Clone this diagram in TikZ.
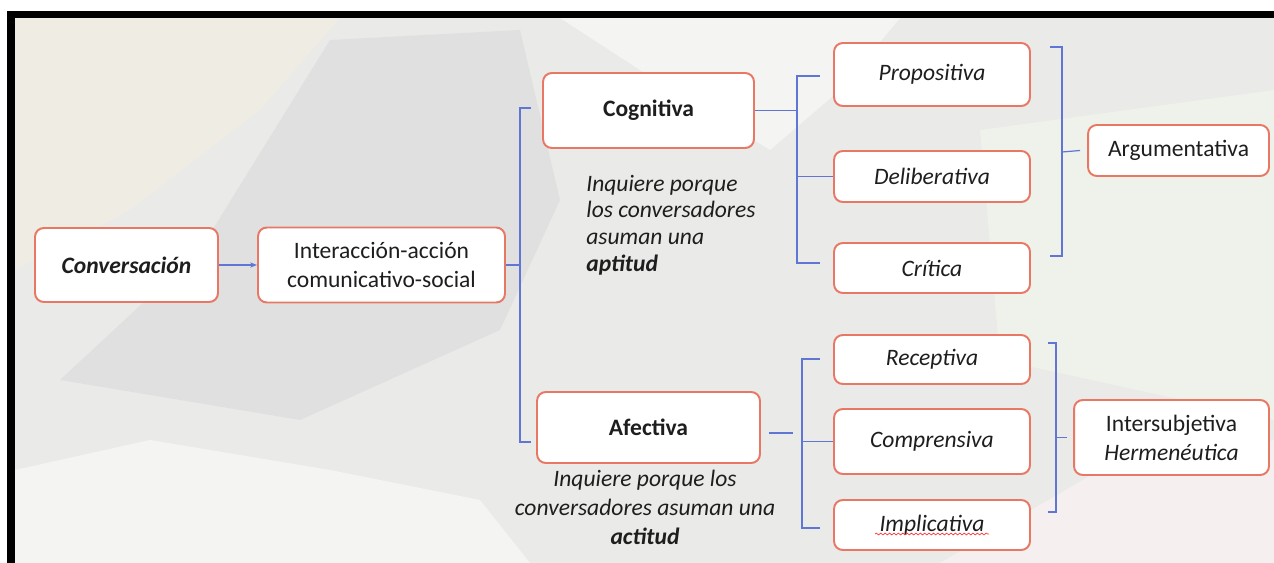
\documentclass[tikz,border=0pt]{standalone}
\usepackage{fontspec}
\setmainfont{Carlito}
\usetikzlibrary{arrows.meta,calc,decorations.pathmorphing}
\definecolor{boxred}{RGB}{232,120,100}
\definecolor{conblue}{RGB}{95,118,212}
\definecolor{bgbase}{RGB}{234,234,233}
\definecolor{bgbeige}{RGB}{239,236,227}
\definecolor{bgwhite}{RGB}{244,244,243}
\definecolor{bggreen}{RGB}{238,242,235}
\definecolor{bgpink}{RGB}{246,239,239}
\definecolor{bgdark}{RGB}{224,224,224}
\definecolor{ink}{RGB}{30,30,30}
\begin{document}
\begin{tikzpicture}[x=0.02cm,y=-0.02cm,
  box/.style={draw=boxred, line width=1.1pt, rounded corners=5pt, fill=white, align=center,
    text=ink, inner sep=2pt, font=\fontsize{13.4}{16.5}\selectfont},
  conn/.style={draw=conblue, line width=0.7pt},
  note/.style={text=ink, inner sep=0pt}]
\useasboundingbox (0,0) rectangle (1274,563);
% background
\fill[white] (0,0) rectangle (1274,563);
\fill[bgbase] (15,18) rectangle (1274,563);
\fill[bgbeige] (15,18) -- (340,18) -- (260,110) -- (130,210) -- (15,270) -- cycle;
\fill[bgwhite] (560,18) -- (900,18) -- (840,90) -- (770,150) -- (640,70) -- cycle;
\fill[bgwhite] (15,470) -- (150,440) -- (330,470) -- (480,500) -- (530,563) -- (15,563) -- cycle;
\fill[bgdark] (330,40) -- (520,30) -- (560,200) -- (500,330) -- (300,420) -- (60,380) -- (200,250) -- cycle;
\fill[bggreen] (980,130) -- (1274,90) -- (1274,420) -- (1000,360) -- cycle;
\fill[bgpink] (940,563) -- (1100,470) -- (1274,440) -- (1274,563) -- cycle;
% black frame
\fill[black] (7,11) rectangle (1274,18);
\fill[black] (7,11) rectangle (15,563);

% nodes
\node[box, minimum width=3.66cm, minimum height=1.48cm] (conv) at (126.5,265) {\textbf{\textit{Conversación}}};
\node[box, minimum width=4.94cm, minimum height=1.5cm] (inter) at (381.5,265) {Interacción-acción\\comunicativo-social};
\node[box, minimum width=4.22cm, minimum height=1.5cm] (cog) at (648.5,110.5) {\textbf{Cognitiva}};
\node[box, minimum width=4.46cm, minimum height=1.42cm] (afe) at (648.5,427.5) {\textbf{Afectiva}};
\node[box, minimum width=3.92cm, minimum height=1.26cm] (prop) at (932,74.5) {\textit{Propositiva}};
\node[box, minimum width=3.92cm, minimum height=1.02cm] (deli) at (932,176.5) {\textit{Deliberativa}};
\node[box, minimum width=3.92cm, minimum height=1.0cm] (crit) at (932,268) {\textit{Crítica}};
\node[box, minimum width=3.62cm, minimum height=1.02cm] (arg) at (1178.5,150.5) {Argumentativa};
\node[box, minimum width=3.92cm, minimum height=0.98cm] (rec) at (932,359.5) {\textit{Receptiva}};
\node[box, minimum width=3.92cm, minimum height=1.3cm] (comp) at (932,441.5) {\textit{Comprensiva}};
\node[box, minimum width=3.92cm, minimum height=1.0cm] (impl) at (932,525) {\textit{Implicativa}};
\node[box, minimum width=3.9cm, minimum height=1.5cm] (herm) at (1171.5,437.5) {Intersubjetiva\\\textit{Hermenéutica}};

% notes
\node[note, anchor=west, align=left, font=\fontsize{13.4}{15.2}\selectfont] (cogtxt) at (586,225)
  {\textit{Inquiere porque}\\\textit{los conversadores}\\\textit{asuman una}\\\textbf{\textit{aptitud}}};
\node[note, align=center, font=\fontsize{13.4}{16.5}\selectfont] (afetxt) at (645,507)
  {\textit{Inquiere porque los}\\\textit{conversadores asuman una}\\\textbf{\textit{actitud}}};

% wavy underline of Implicativa
\draw[red!80, line width=0.4pt, decorate, decoration={snake, amplitude=0.5pt, segment length=2.5pt}]
  ($(impl.center)+(-57,9)$) -- ($(impl.center)+(57,9)$);

% connectors
\draw[conn, -{Stealth[length=4pt,width=3pt]}] (conv) -- (inter);

\coordinate (b1) at (520,265);
\coordinate (b1t) at (531,108);
\coordinate (b1b) at (531,442);
\draw[conn] (inter.east) -- (b1);
\draw[conn] (b1t) -- (b1t -| b1) -- (b1b -| b1) -- (b1b);

\coordinate (b2) at (797,110.5);
\coordinate (b2t) at (820,76);
\coordinate (b2b) at (820,263);
\draw[conn] (cog.east) -- (b2);
\draw[conn] (b2t) -- (b2t -| b2) -- (b2b -| b2) -- (b2b);
\draw[conn] (deli.west -| b2) -- (deli.west);

\coordinate (b3) at (802,433);
\coordinate (b3s) at (769,433);
\coordinate (b3e) at (793,433);
\coordinate (b3t) at (820,359);
\coordinate (b3b) at (820,528);
\draw[conn] (b3s) -- (b3e);
\draw[conn] (b3t) -- (b3t -| b3) -- (b3b -| b3) -- (b3b);
\draw[conn] (comp.west -| b3) -- (comp.west);

\coordinate (b4) at (1062,152);
\coordinate (b4t) at (1050,47);
\coordinate (b4b) at (1050,256);
\draw[conn] (b4t) -- (b4t -| b4) -- (b4b -| b4) -- (b4b);
\draw[conn] (b4) -- ($(arg.west)+(-7,0)$);

\coordinate (b5) at (1056,437.5);
\coordinate (b5t) at (1048,343);
\coordinate (b5b) at (1048,512);
\draw[conn] (b5t) -- (b5t -| b5) -- (b5b -| b5) -- (b5b);
\draw[conn] (b5) -- ($(herm.west)+(-6,0)$);
\end{tikzpicture}
\end{document}
